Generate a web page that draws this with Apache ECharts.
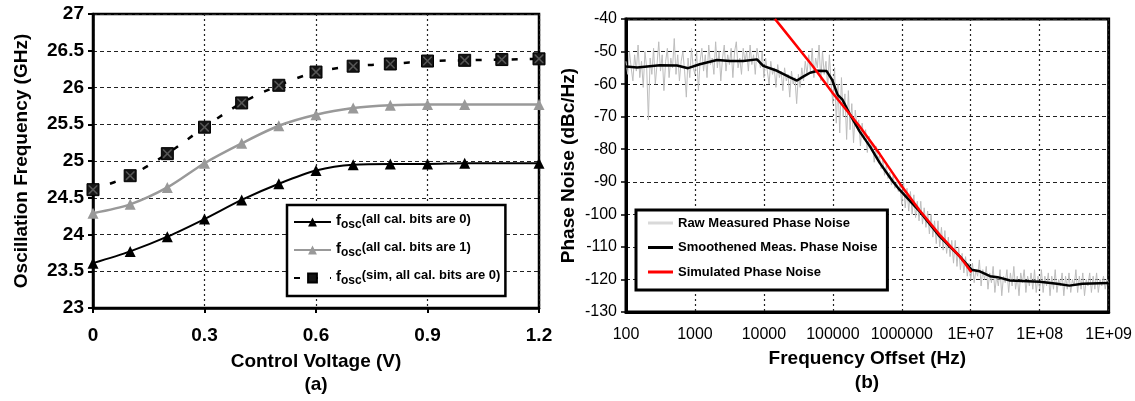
<!DOCTYPE html>
<html>
<head>
<meta charset="utf-8">
<title>Oscillation frequency and phase noise</title>
<script src="https://cdn.jsdelivr.net/npm/echarts@6/dist/echarts.min.js"></script>
</head>
<body style="margin:0;padding:0;background:#ffffff;">
<div id="main" style="width:1135px;height:401px;"></div>
<script type="text/javascript">
// ---------- (a) oscillation frequency vs control voltage ----------
var vctrl    = [0, 0.1, 0.2, 0.3, 0.4, 0.5, 0.6, 0.7, 0.8, 0.9, 1.0, 1.2];
var fBits0   = [23.61, 23.77, 23.97, 24.21, 24.47, 24.69, 24.87, 24.95, 24.96, 24.96, 24.97, 24.97];
var fBits1   = [24.29, 24.41, 24.64, 24.97, 25.24, 25.48, 25.63, 25.72, 25.76, 25.77, 25.77, 25.77];
var vctrlSim = [0, 0.1, 0.2, 0.3, 0.4, 0.5, 0.6, 0.7, 0.8, 0.9, 1.0, 1.1, 1.2];
var fSim     = [24.61, 24.80, 25.10, 25.46, 25.79, 26.03, 26.21, 26.29, 26.32, 26.36, 26.37, 26.38, 26.39];
var legendA  = ['(all cal. bits are 0)', '(all cal. bits are 1)', '(sim, all cal. bits are 0)'];

// ---------- (b) phase noise vs frequency offset ----------
var freqTickLabels = ['100', '1000', '10000', '100000', '1000000', '1E+07', '1E+08', '1E+09'];
// raw trace, 40 readings per decade from 100 Hz to 1 GHz (dBc/Hz)
var rawNoise = [
    // 100 .. 1k
    -53, -57, -50, -55, -59, -51, -56, -48, -58, -53, -61, -50, -55, -71, -52, -57, -49, -60, -54, -47,
    -56, -51, -62, -53, -49, -58, -52, -55, -46, -57, -51, -59, -53, -50, -56, -64, -52, -58, -49, -55,
    // 1k .. 10k
    -57, -50, -62, -53, -49, -56, -51, -58, -48, -54, -52, -57, -47, -55, -50, -59, -52, -48, -56, -51,
    -54, -49, -58, -50, -47, -55, -52, -57, -49, -53, -50, -56, -48, -54, -51, -57, -49, -52, -55, -50,
    // 10k .. 100k
    -58, -52, -56, -60, -53, -57, -55, -61, -54, -58, -56, -62, -55, -59, -57, -64, -56, -60, -58, -66,
    -57, -61, -55, -59, -53, -57, -51, -56, -49, -58, -52, -55, -48, -59, -50, -57, -53, -61, -51, -60,
    // 100k .. 1M
    -66, -55, -72, -60, -75, -58, -70, -63, -77, -62, -74, -66, -78, -68, -73, -71, -79, -72, -77, -74,
    -81, -76, -80, -78, -84, -79, -83, -82, -86, -83, -88, -85, -89, -87, -91, -88, -92, -90, -93, -91,
    // 1M .. 10M
    -97, -90, -98, -92, -99, -93, -100, -94, -101, -96, -102, -96, -103, -98, -104, -99, -106, -100, -107, -102,
    -109, -102, -110, -104, -111, -105, -112, -107, -113, -108, -115, -108, -116, -110, -117, -112, -118, -113, -119, -115,
    // 10M .. 100M
    -120, -115, -121, -117, -119, -114, -122, -117, -120, -116, -123, -118, -121, -116, -124, -119, -122, -117, -125, -119,
    -121, -117, -124, -118, -122, -116, -123, -119, -125, -118, -121, -117, -124, -119, -122, -118, -123, -117, -124, -119,
    // 100M .. 1G
    -123, -117, -124, -119, -122, -118, -125, -119, -123, -117, -124, -120, -122, -118, -125, -119, -123, -118, -124, -120,
    -122, -117, -124, -119, -123, -118, -125, -120, -122, -118, -124, -119, -123, -118, -124, -120, -122, -119, -123, -120,
    -121
];
var smoothFreq  = [100, 145, 309, 550, 794, 1175, 2089, 3236, 5012, 7943, 9772, 15488, 23988, 30200, 37154, 46774,
                   60256, 81283, 97724, 117490, 138038, 177828, 245471, 346737, 478630, 741310, 933254, 1819701,
                   3548134, 6918310, 10232930, 13489629, 19054607, 24547089, 37153523, 1e8, 177827941, 269153480,
                   416869383, 1e9];
var smoothNoise = [-54.6, -54.9, -54.2, -54.3, -55.1, -53.9, -52.6, -52.9, -52.9, -52.4, -54.4, -55.9, -57.9, -58.9,
                   -57.7, -56.5, -55.9, -56.0, -58.7, -63.3, -64.8, -69.4, -74.6, -79.2, -84.2, -89.9, -92.5, -99.1,
                   -106.8, -112.9, -117.0, -117.5, -119.0, -119.3, -120.3, -120.7, -121.3, -121.9, -121.3, -121.1];
var simFreq  = [14454, 16982, 51286, 100000, 245471, 478630, 933254, 1819701, 3548134, 6918310, 10232930];
var simNoise = [-40, -41.8, -54.5, -62.8, -73.0, -81.5, -90.5, -98.8, -106.3, -112.9, -117.8];
var legendB  = ['Raw Measured Phase Noise', 'Smoothened Meas. Phase Noise', 'Simulated Phase Noise'];

var FONT = "'Liberation Sans', Arial, sans-serif";

function pairs(xs, ys) {
    return ys.map(function (y, i) { return [xs[i], y]; });
}
// raw readings sit on a grid of 40 points per decade starting at 100 Hz
var rawData = rawNoise.map(function (v, i) { return [Math.pow(10, 2 + i / 40), v]; });

var chart = echarts.init(document.getElementById('main'));

var dashH = { show: true, lineStyle: { color: '#222', width: 1.2, type: [4, 3] } };
var dashV = { show: true, lineStyle: { color: '#222', width: 1.2, type: [2, 3] } };

var option = {
    backgroundColor: '#ffffff',
    animation: false,
    textStyle: { fontFamily: FONT },
    grid: [
        { left: 93, top: 14, width: 446, height: 294, show: true, borderColor: '#000', borderWidth: 2.5 },
        { left: 626, top: 19, width: 483, height: 293, show: true, borderColor: '#000', borderWidth: 3 }
    ],
    xAxis: [
        {
            gridIndex: 0, type: 'value', min: 0, max: 1.2, interval: 0.3,
            name: 'Control Voltage (V)', nameLocation: 'middle', nameGap: 44,
            nameTextStyle: { color: '#000', fontSize: 19, fontWeight: 'bold', fontFamily: FONT },
            axisLine: { lineStyle: { color: '#000', width: 2.5 } },
            axisTick: { show: true, length: 5, lineStyle: { color: '#000', width: 2 } },
            axisLabel: { color: '#000', fontSize: 19, fontWeight: 'bold', margin: 18, fontFamily: FONT },
            splitLine: dashV
        },
        {
            gridIndex: 1, type: 'log', logBase: 10, min: 100, max: 1e9,
            name: 'Frequency Offset (Hz)', nameLocation: 'middle', nameGap: 37,
            nameTextStyle: { color: '#000', fontSize: 19, fontWeight: 'bold', fontFamily: FONT },
            axisLine: { lineStyle: { color: '#000', width: 3 } },
            axisTick: { show: false },
            axisLabel: {
                color: '#000', fontSize: 16, margin: 15, fontFamily: FONT,
                formatter: function (v) { return freqTickLabels[Math.round(Math.log10(v)) - 2]; }
            },
            splitLine: dashV
        }
    ],
    yAxis: [
        {
            gridIndex: 0, type: 'value', min: 23, max: 27, interval: 0.5,
            name: 'Oscillation Frequency (GHz)', nameLocation: 'middle', nameGap: 62,
            nameTextStyle: { color: '#000', fontSize: 19, fontWeight: 'bold', fontFamily: FONT },
            axisLine: { show: true, lineStyle: { color: '#000', width: 2.5 } },
            axisTick: { show: true, length: 5, lineStyle: { color: '#000', width: 2 } },
            axisLabel: { color: '#000', fontSize: 19, fontWeight: 'bold', margin: 9, fontFamily: FONT },
            splitLine: dashH
        },
        {
            gridIndex: 1, type: 'value', min: -130, max: -40, interval: 10,
            name: 'Phase Noise (dBc/Hz)', nameLocation: 'middle', nameGap: 48,
            nameTextStyle: { color: '#000', fontSize: 19, fontWeight: 'bold', fontFamily: FONT },
            axisLine: { show: true, lineStyle: { color: '#000', width: 3 } },
            axisTick: { show: true, length: 5, lineStyle: { color: '#000', width: 1.5 } },
            axisLabel: { color: '#000', fontSize: 16, margin: 9, fontFamily: FONT },
            splitLine: dashH
        }
    ],
    legend: [
        {
            left: 287, top: 205, orient: 'vertical',
            itemWidth: 37, itemHeight: 11, itemGap: 10,
            padding: [8, 5, 9, 6],
            borderColor: '#000', borderWidth: 2.5, backgroundColor: '#fff',
            data: legendA,
            formatter: function (name) { return '{f|f}{s|osc}{t|' + name + '}'; },
            textStyle: {
                color: '#000', fontFamily: FONT,
                rich: {
                    f: { fontSize: 15, fontWeight: 'bold', lineHeight: 18, verticalAlign: 'top', fontFamily: FONT },
                    s: { fontSize: 12, fontWeight: 'bold', lineHeight: 18, verticalAlign: 'bottom', padding: [6, 0, 0, 0], fontFamily: FONT },
                    t: { fontSize: 13, fontWeight: 'bold', lineHeight: 18, verticalAlign: 'top', fontFamily: FONT }
                }
            }
        },
        {
            left: 636, top: 210, orient: 'vertical',
            itemWidth: 25, itemHeight: 3, itemGap: 8.5,
            padding: [5, 10, 10, 12],
            borderColor: '#000', borderWidth: 3, backgroundColor: '#fff',
            data: [
                { name: legendB[0], icon: 'rect', itemStyle: { color: '#d9d9d9' } },
                { name: legendB[1], icon: 'rect', itemStyle: { color: '#000' } },
                { name: legendB[2], icon: 'rect', itemStyle: { color: '#ff0000' } }
            ],
            textStyle: { color: '#000', fontSize: 13, fontWeight: 'bold', lineHeight: 16, fontFamily: FONT }
        }
    ],
    series: [
        {
            name: legendA[2], type: 'line', xAxisIndex: 0, yAxisIndex: 0, smooth: 0.3,
            data: pairs(vctrlSim, fSim),
            symbol: 'rect', symbolSize: 12,
            lineStyle: { color: '#000', width: 2.5, type: [6, 12] },
            itemStyle: { color: '#151515', borderColor: '#000', borderWidth: 1 },
            z: 3
        },
        {
            name: 'simX', type: 'scatter', xAxisIndex: 0, yAxisIndex: 0, silent: true,
            data: pairs(vctrlSim, fSim),
            symbol: 'path://M0,0L1.2,0L10,8.8L10,10L8.8,10L0,1.2ZM10,0L10,1.2L1.2,10L0,10L0,8.8L8.8,0Z',
            symbolSize: 9,
            itemStyle: { color: '#666' },
            z: 4
        },
        {
            name: legendA[1], type: 'line', xAxisIndex: 0, yAxisIndex: 0, smooth: 0.3,
            data: pairs(vctrl, fBits1),
            symbol: 'triangle', symbolSize: 11,
            lineStyle: { color: '#999', width: 2.5 },
            itemStyle: { color: '#999' },
            z: 3
        },
        {
            name: legendA[0], type: 'line', xAxisIndex: 0, yAxisIndex: 0, smooth: 0.3,
            data: pairs(vctrl, fBits0),
            symbol: 'triangle', symbolSize: 11,
            lineStyle: { color: '#000', width: 2 },
            itemStyle: { color: '#000' },
            z: 3
        },
        {
            name: legendB[0], type: 'line', xAxisIndex: 1, yAxisIndex: 1,
            data: rawData, showSymbol: false,
            lineStyle: { color: '#bdbdbd', width: 1 },
            itemStyle: { color: '#bdbdbd' },
            z: 2
        },
        {
            name: legendB[1], type: 'line', xAxisIndex: 1, yAxisIndex: 1,
            data: pairs(smoothFreq, smoothNoise), showSymbol: false,
            lineStyle: { color: '#000', width: 2.5 },
            itemStyle: { color: '#000' },
            z: 3
        },
        {
            name: legendB[2], type: 'line', xAxisIndex: 1, yAxisIndex: 1,
            data: pairs(simFreq, simNoise), showSymbol: false,
            lineStyle: { color: '#ff0000', width: 2.5 },
            itemStyle: { color: '#ff0000' },
            z: 4
        }
    ],
    graphic: [
        { type: 'text', x: 316, y: 385, style: { text: '(a)', fill: '#000', font: 'bold 19px ' + FONT, textAlign: 'center', textVerticalAlign: 'middle' } },
        { type: 'text', x: 867, y: 383, style: { text: '(b)', fill: '#000', font: 'bold 19px ' + FONT, textAlign: 'center', textVerticalAlign: 'middle' } }
    ]
};

chart.setOption(option);
</script>
</body>
</html>
